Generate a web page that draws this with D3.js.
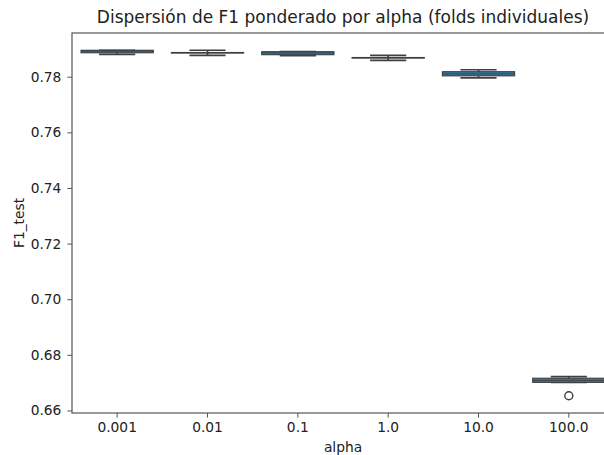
<!DOCTYPE html>
<html>
<head>
<meta charset="utf-8">
<script src="https://cdn.jsdelivr.net/npm/d3@7"></script>
<style>
  body { margin: 0; background: #fff; }
  svg { display: block; font-family: "DejaVu Sans", sans-serif; }
</style>
</head>
<body>
<div id="chart"></div>
<script>
// Boxplot of weighted F1 per alpha (individual folds)

// Data
const alphas   = ["0.001", "0.01", "0.1", "1.0", "10.0", "100.0"];
const whiskLo  = [0.7880, 0.7877, 0.7876, 0.7859, 0.7796, 0.6701];
const q1       = [0.7886, 0.7885, 0.7879, 0.7867, 0.7803, 0.6701];
const median   = [0.7892, 0.7886, 0.7885, 0.7868, 0.7810, 0.6708];
const q3       = [0.7895, 0.7887, 0.7890, 0.7869, 0.7818, 0.6716];
const whiskHi  = [0.7895, 0.7895, 0.7890, 0.7877, 0.7825, 0.6722];
const outliers = [[], [], [], [], [], [0.6653]];
const yTicks   = [0.66, 0.68, 0.70, 0.72, 0.74, 0.76, 0.78];

const boxes = alphas.map((a, i) => ({
  alpha: a, lo: whiskLo[i], q1: q1[i], med: median[i], q3: q3[i], hi: whiskHi[i], out: outliers[i]
}));

// Colors
const boxFill = "#3274a1";
const lineColor = "#3f3f3f";
const spineColor = "#555";
const textColor = "#222";

// Dimensions (plot runs past the right edge, like the cropped original)
const width = 604, height = 455,
      marginTop = 33, marginLeft = 72, plotRight = 614, plotBottom = 413;

const x = d3.scaleBand()
    .domain(alphas)
    .range([marginLeft, plotRight])
    .paddingInner(0).paddingOuter(0);

// matplotlib style 5% margins around the data
const allVals = boxes.flatMap(d => [d.lo, d.hi, ...d.out]);
const [vMin, vMax] = d3.extent(allVals);
const pad = (vMax - vMin) * 0.05;
const y = d3.scaleLinear()
    .domain([vMin - pad, vMax + pad])
    .range([plotBottom, marginTop]);

const svg = d3.select("#chart")
  .append("svg")
    .attr("width", width)
    .attr("height", height)
    .attr("viewBox", [0, 0, width, height]);

const bw = x.bandwidth() * 0.8;
const cw = bw / 2;
const cx = d => x(d.alpha) + x.bandwidth() / 2;

const g = svg.append("g")
    .attr("stroke", lineColor)
    .attr("stroke-width", 1.7);

// Whiskers
g.selectAll("line.whisk")
  .data(boxes.flatMap(d => [[d, d.lo, d.q1], [d, d.q3, d.hi]]))
  .join("line")
    .attr("class", "whisk")
    .attr("x1", d => cx(d[0]))
    .attr("x2", d => cx(d[0]))
    .attr("y1", d => y(d[1]))
    .attr("y2", d => y(d[2]));

// Caps
g.selectAll("line.cap")
  .data(boxes.flatMap(d => [[d, d.lo], [d, d.hi]]))
  .join("line")
    .attr("class", "cap")
    .attr("x1", d => cx(d[0]) - cw / 2)
    .attr("x2", d => cx(d[0]) + cw / 2)
    .attr("y1", d => y(d[1]))
    .attr("y2", d => y(d[1]));

// Boxes
g.selectAll("rect.box")
  .data(boxes)
  .join("rect")
    .attr("class", "box")
    .attr("x", d => cx(d) - bw / 2)
    .attr("width", bw)
    .attr("y", d => y(d.q3))
    .attr("height", d => Math.max(0.01, y(d.q1) - y(d.q3)))
    .attr("fill", boxFill)
    .attr("stroke-width", 1.1);

// Medians
g.selectAll("line.med")
  .data(boxes)
  .join("line")
    .attr("class", "med")
    .attr("x1", d => cx(d) - bw / 2)
    .attr("x2", d => cx(d) + bw / 2)
    .attr("y1", d => y(d.med))
    .attr("y2", d => y(d.med))
    .attr("stroke-width", 0.8);

// Outliers
g.selectAll("circle")
  .data(boxes.flatMap(d => d.out.map(v => [d, v])))
  .join("circle")
    .attr("cx", d => cx(d[0]))
    .attr("cy", d => y(d[1]))
    .attr("r", 4)
    .attr("stroke-width", 1.4)
    .attr("fill", "none");

// Frame (spines)
svg.append("rect")
    .attr("x", marginLeft)
    .attr("y", marginTop)
    .attr("width", plotRight - marginLeft)
    .attr("height", plotBottom - marginTop)
    .attr("fill", "none")
    .attr("stroke", spineColor)
    .attr("stroke-width", 1.2);

// Axes
svg.append("g")
    .attr("transform", `translate(0,${plotBottom})`)
    .call(d3.axisBottom(x).tickSizeInner(4.6).tickSizeOuter(0).tickPadding(5))
    .call(g => g.select(".domain").remove())
    .call(g => g.selectAll("line").attr("stroke", spineColor))
    .call(g => g.selectAll("text")
        .attr("fill", textColor)
        .attr("font-size", 13.8)
        .attr("font-family", "DejaVu Sans"));

svg.append("g")
    .attr("transform", `translate(${marginLeft},0)`)
    .call(d3.axisLeft(y).tickValues(yTicks).tickFormat(d3.format(".2f"))
        .tickSizeInner(4.6).tickSizeOuter(0).tickPadding(6))
    .call(g => g.select(".domain").remove())
    .call(g => g.selectAll("line").attr("stroke", spineColor))
    .call(g => g.selectAll("text")
        .attr("fill", textColor)
        .attr("font-size", 13.8)
        .attr("font-family", "DejaVu Sans"));

// Labels
svg.append("text")
    .attr("x", (marginLeft + plotRight) / 2)
    .attr("y", 452)
    .attr("text-anchor", "middle")
    .attr("font-size", 13.8)
    .attr("fill", textColor)
    .text("alpha");

svg.append("text")
    .attr("transform", `translate(24,${(marginTop + plotBottom) / 2}) rotate(-90)`)
    .attr("text-anchor", "middle")
    .attr("font-size", 13.8)
    .attr("fill", textColor)
    .text("F1_test");

svg.append("text")
    .attr("x", (marginLeft + plotRight) / 2)
    .attr("y", 23)
    .attr("text-anchor", "middle")
    .attr("font-size", 17)
    .attr("fill", textColor)
    .text("Dispersión de F1 ponderado por alpha (folds individuales)");
</script>
</body>
</html>
